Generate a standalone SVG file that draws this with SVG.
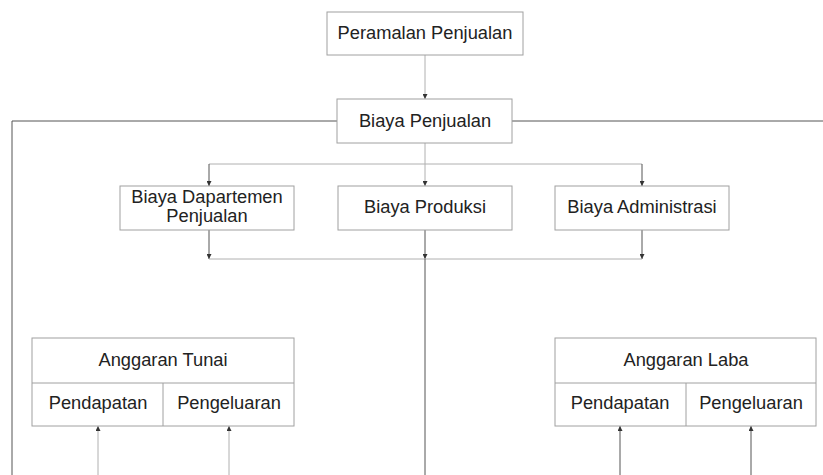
<svg xmlns="http://www.w3.org/2000/svg" width="823" height="475" viewBox="0 0 823 475">
<style>
.box{fill:#fff;stroke:#a0a0a0;stroke-width:1}
.t{font-family:"Liberation Sans",Arial,sans-serif;font-size:18.3px;fill:#222;text-anchor:middle}
.c{fill:none;stroke:#555;stroke-width:1}
.l{fill:none;stroke:#b0b0b0;stroke-width:1}
</style>
<defs>
<marker id="ah" viewBox="0 0 6 6" refX="6" refY="3" markerWidth="5" markerHeight="5" orient="auto" markerUnits="userSpaceOnUse">
<path d="M0,0 L6,3 L0,6 Z" fill="#333"/>
</marker>
</defs>
<rect width="823" height="475" fill="#fff"/>
<g id="connectors">
<line class="l" x1="425" y1="55" x2="425" y2="99" marker-end="url(#ah)"/>
<path class="c" d="M337,121 H12 V475"/>
<path class="c" d="M512,121 H823"/>
<line class="l" x1="425" y1="143" x2="425" y2="186" marker-end="url(#ah)"/>
<path class="l" d="M209,164 H642"/>
<line class="c" x1="209" y1="164" x2="209" y2="186" marker-end="url(#ah)"/>
<line class="c" x1="642" y1="164" x2="642" y2="186" marker-end="url(#ah)"/>
<line class="c" x1="209" y1="230" x2="209" y2="259" marker-end="url(#ah)"/>
<line class="c" x1="425" y1="230" x2="425" y2="259" marker-end="url(#ah)"/>
<line class="c" x1="642" y1="230" x2="642" y2="259" marker-end="url(#ah)"/>
<path class="l" d="M209,259 H642"/>
<line class="c" x1="425" y1="259" x2="425" y2="475"/>
<line class="l" x1="98" y1="475" x2="98" y2="426" marker-end="url(#ah)"/>
<line class="l" x1="229" y1="475" x2="229" y2="426" marker-end="url(#ah)"/>
<line class="c" x1="620" y1="475" x2="620" y2="426" marker-end="url(#ah)"/>
<line class="c" x1="751" y1="475" x2="751" y2="426" marker-end="url(#ah)"/>
</g>
<g id="peramalan">
<rect class="box" x="327" y="12" width="196" height="43"/>
<text class="t" x="425" y="39">Peramalan Penjualan</text>
</g>
<g id="biaya-penjualan">
<rect class="box" x="337" y="99" width="175" height="44"/>
<text class="t" x="425" y="127">Biaya Penjualan</text>
</g>
<g id="biaya-dapartemen">
<rect class="box" x="120" y="186" width="174" height="44"/>
<text class="t" x="207" y="203">Biaya Dapartemen</text>
<text class="t" x="207" y="222">Penjualan</text>
</g>
<g id="biaya-produksi">
<rect class="box" x="338" y="186" width="174" height="44"/>
<text class="t" x="425" y="213">Biaya Produksi</text>
</g>
<g id="biaya-administrasi">
<rect class="box" x="555" y="186" width="174" height="44"/>
<text class="t" x="642" y="213">Biaya Administrasi</text>
</g>
<g id="anggaran-tunai">
<rect class="box" x="32" y="338" width="262" height="88"/>
<line class="box" x1="32" y1="383" x2="294" y2="383"/>
<line class="box" x1="163" y1="383" x2="163" y2="426"/>
<text class="t" x="163" y="366">Anggaran Tunai</text>
<text class="t" x="98" y="409">Pendapatan</text>
<text class="t" x="229" y="409">Pengeluaran</text>
</g>
<g id="anggaran-laba">
<rect class="box" x="555" y="338" width="261" height="88"/>
<line class="box" x1="555" y1="383" x2="816" y2="383"/>
<line class="box" x1="686" y1="383" x2="686" y2="426"/>
<text class="t" x="686" y="366">Anggaran Laba</text>
<text class="t" x="620" y="409">Pendapatan</text>
<text class="t" x="751" y="409">Pengeluaran</text>
</g>
</svg>
